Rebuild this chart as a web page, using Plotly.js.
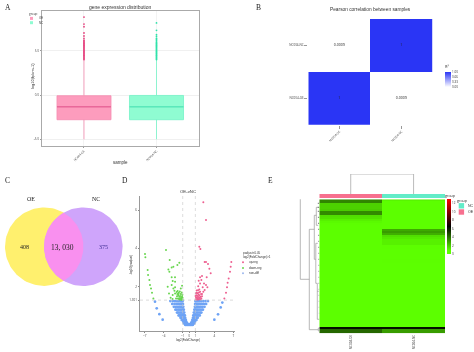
<!DOCTYPE html>
<html><head><meta charset="utf-8">
<script src="https://cdn.plot.ly/plotly-3.0.1.min.js"></script>
<style>html,body{margin:0;padding:0;background:#fff}#p{width:474px;height:352px;filter:blur(0.35px)}</style>
</head><body><div id="p"></div>
<script>
// ---------- DATA ----------
const groups = ['OE','NC'];
const sampleNames = ['NC004-OE','NC004-NC'];
// A: box statistics
const boxQ1 = [-2.79,-2.79], boxMedian = [-1.32,-1.32], boxQ3 = [-0.08,-0.05];
const boxLow = [-5,-5], boxHigh = [3.95,3.95];
const outliersOE = [8.8,8.0,7.7,7.0,6.66,6.4,6.2,6.1,6.0,5.9,5.8,5.7,5.6,5.5,5.4,5.3,5.2,5.1,5.0,4.9,4.8,4.7,4.6,4.5,4.4,4.3,4.2,4.1,4.0];
const outliersNC = [8.13,7.3,6.8,6.6,6.4,6.3,6.15,6.0,5.9,5.8,5.7,5.6,5.5,5.4,5.3,5.2,5.1,5.0,4.9,4.8,4.7,4.6,4.5,4.4,4.3,4.2,4.1,4.0];
const distTicks = [-5,0,5], distTickText = ['-5.0','0.0','5.0'];
// B: correlation (first row is the lower one)
const corrZ = [[1,0.0009],[0.0009,1]];
const corrText = [['1','0.0009'],['0.0009','1']];
const corrTicks = [0,0.33,0.66,1], corrTickText = ['0.00','0.33','0.66','1.00'];
// C: venn
const vennNames = ['OE','NC'];
const vennCounts = ['408','13, 030','375'];
// D: volcano
const downX = [-6.95,-6.89,-6.53,-6.47,-6.26,-6.16,-6.0,-5.84,-5.63,-3.63,-3.05,-1.53,-1.84,-2.47,-2.74,-3.26,-3.1,-2.74,-2.21,-2.58,-2.2,-2.74,-3.37,-2.2,-3.16,-2.47,-2.3,-2.58,-2.2,-1.95,-1.8,-1.62,-1.45,-1.3,-1.15,-1.05,-1.9,-1.7,-1.55,-1.4,-1.25,-1.1,-1.02,-2.05,-1.75,-1.6,-1.42,-1.2,-1.08,-1.5,-1.35,-1.18,-1.03,-1.85,-1.65,-2.9,-2.6,-1.3,-1.1];
const downY = [3.7,3.53,2.87,2.61,2.35,2.09,1.91,1.69,1.39,3.91,3.39,3.25,3.13,3.04,3.0,2.9,2.78,2.49,2.49,2.3,2.26,2.09,2.0,1.97,1.65,1.91,1.79,1.57,1.65,1.72,1.78,1.68,1.75,1.62,1.7,1.58,1.5,1.55,1.48,1.52,1.45,1.5,1.42,1.38,1.38,1.36,1.4,1.38,1.34,1.34,1.33,1.32,1.33,1.62,1.62,1.42,1.36,1.9,2.05];
const upX = [2.26,2.68,1.63,1.79,2.47,2.68,3.0,3.21,3.42,2.05,1.74,1.53,1.95,2.79,2.37,2.9,1.74,1.45,2.16,2.47,2.68,2.26,2.05,6.68,6.58,6.47,6.26,6.1,6.0,5.84,5.58,1.05,1.15,1.3,1.45,1.6,1.8,1.95,1.1,1.25,1.4,1.55,1.7,1.85,2.05,1.03,1.18,1.32,1.5,1.65,1.9,1.08,1.22,1.38,1.58,1.75,1.2,1.42,1.62];
const upY = [6.4,5.48,4.09,3.97,3.29,3.29,3.18,2.94,2.7,2.56,2.49,2.31,2.35,2.49,2.17,1.97,2.17,2.02,1.97,1.83,2.09,1.74,1.62,3.29,3.04,2.78,2.43,2.21,1.97,1.69,1.39,1.34,1.33,1.35,1.33,1.36,1.34,1.38,1.42,1.44,1.4,1.46,1.42,1.48,1.5,1.52,1.55,1.52,1.58,1.56,1.62,1.66,1.68,1.66,1.7,1.74,1.8,1.82,1.86];
const nonX = [-5.37,-5.1,-4.68,-4.16,5.26,5.0,4.58,4.0,
 -1.0,-1.2,-1.4,-1.65,-1.9,-2.2,-2.55,-2.95,1.0,1.2,1.42,1.68,1.92,2.25,2.6,3.0,
 -.95,-1.12,-1.3,-1.5,-1.75,-2.0,-2.3,-2.65,.96,1.14,1.33,1.52,1.77,2.05,2.35,2.7,
 -.9,-1.05,-1.2,-1.4,-1.6,-1.85,-2.1,-2.4,.92,1.06,1.24,1.42,1.63,1.88,2.15,2.45,
 -.82,-.95,-1.1,-1.3,-1.5,-1.7,-1.95,-2.15,.84,.97,1.13,1.32,1.52,1.74,1.98,2.2,
 -.75,-.88,-1.0,-1.2,-1.35,-1.55,-1.75,-1.9,.76,.9,1.03,1.22,1.38,1.58,1.78,1.95,
 -.65,-.8,-.92,-1.05,-1.2,-1.35,-1.5,-1.65,.67,.82,.94,1.07,1.23,1.38,1.53,1.7,
 -.6,-.7,-.82,-.95,-1.05,-1.2,-1.35,.62,.72,.84,.97,1.08,1.22,1.38,
 -.5,-.62,-.72,-.85,-.95,-1.05,-1.15,.52,.64,.74,.87,.97,1.08,1.18,
 -.42,-.52,-.62,-.72,-.82,-.92,.43,.54,.64,.74,.84,.95,
 -.3,-.4,-.5,-.6,-.7,-.8,.32,.42,.52,.62,.72,.82,
 -.15,-.25,-.35,-.45,-.55,-.65,.16,.26,.36,.46,.56,.67,
 0,-.1,-.2,-.3,-.4,-.5,-.6,.1,.2,.3,.4,.5,.6];
const nonY = [1.22,.87,.57,.28,1.17,.92,.56,.28,
 1.25,1.25,1.25,1.25,1.25,1.25,1.25,1.25,1.25,1.25,1.25,1.25,1.25,1.25,1.25,1.25,
 1.1,1.1,1.1,1.1,1.1,1.1,1.1,1.1,1.1,1.1,1.1,1.1,1.1,1.1,1.1,1.1,
 .95,.95,.95,.95,.95,.95,.95,.95,.95,.95,.95,.95,.95,.95,.95,.95,
 .8,.8,.8,.8,.8,.8,.8,.8,.8,.8,.8,.8,.8,.8,.8,.8,
 .65,.65,.65,.65,.65,.65,.65,.65,.65,.65,.65,.65,.65,.65,.65,.65,
 .5,.5,.5,.5,.5,.5,.5,.5,.5,.5,.5,.5,.5,.5,.5,.5,
 .38,.38,.38,.38,.38,.38,.38,.38,.38,.38,.38,.38,.38,.38,
 .27,.27,.27,.27,.27,.27,.27,.27,.27,.27,.27,.27,.27,.27,
 .17,.17,.17,.17,.17,.17,.17,.17,.17,.17,.17,.17,
 .1,.1,.1,.1,.1,.1,.1,.1,.1,.1,.1,.1,
 .05,.05,.05,.05,.05,.05,.05,.05,.05,.05,.05,.05,
 .01,.01,.01,.01,.01,.01,.01,.01,.01,.01,.01,.01,.01];
const fcCut = [-1,1], padjCut = 1.301;
const volcanoLegend = ['up-reg','down-reg','non-diff'];
// E: heatmap rows, top to bottom
const heatOE = [3.5,3.5,1.8,1.8,1.8,1.9,3.4,3.4,1.5,1.4,1.1,.9,.8,.7,.7,.6,.5,.5,.5,.6,.5,.5,.5,.5,.5,.5,.5,.5,.5,.5,.5,.5,.5,.5,.6,.6,.5,.5,.5,.6,.7,.7,.7,.6,.6,.6,.6,.6,.6,.6,.6,.5,.5,.5,.5,.5,.5,.5,.5,.5,.5,.5,.5,.5,6.2,4.2,4.2];
const heatNC = [1.0,.7,.5,.5,.5,.5,.5,.5,.5,.5,.5,.5,.5,.5,.5,2.7,3.0,2.6,1.5,1.3,1.1,1.1,1.1,.8,.8,.7,.6,.6,.6,.6,.8,.8,.7,.7,.6,.5,.5,.5,.5,.4,.4,.4,.4,.4,.4,.4,.4,.4,.4,.4,.4,.4,.4,.4,.4,.4,.4,.4,.4,.4,.4,.4,.4,.5,6.2,3.0,3.0];
const heatTicks = [0,2,4,6,8,10,12];
// E: dendrograms ([height, row or column] node lists, null separates links)
const rowDendroH = [0,19,19,10,null,10,10,null,10,1,null,10,5,null,5,5,null,5,3,null,3,3,null,3,1,null,3,1,null,5,3.5,null,3.5,3.5,null,3.5,1.5,null,3.5,2,null,2,2,null,2,.5,null,2,.5,null,1,1,null,1,0,null,1,0];
const rowDendroR = [-.5,-.5,40,40,null,15,65.2,null,65.2,65.2,null,15,15,null,8,30,null,8,8,null,4,13,null,4,4,null,13,13,null,30,30,null,22,42,null,22,22,null,42,42,null,42,60,null,60,60,null,46,46,null,64.4,65.8,null,64.4,64.4,null,65.8,65.8];
const rowTickH = [0,1.5,null,0,1.5,null,0,1.5,null,0,1.4,null,0,1.3,null,0,1.2,null,0,1.1,null,0,1,null,0,1,null,0,.9,null,0,.9,null,0,.8,null,0,.8,null,0,.7,null,0,.7,null,0,.6,null,0,.6,null,0,.5,null,0,.5,null,0,.4,null,0,.4,null,0,.3,null,0,.3];
const rowTickR = [2,2,null,4,4,null,6,6,null,9,9,null,12,12,null,15,15,null,18,18,null,21,21,null,24,24,null,27,27,null,30,30,null,33,33,null,36,36,null,39,39,null,42,42,null,45,45,null,48,48,null,51,51,null,54,54,null,57,57,null,60,60];
const colDendroX = [0,0,1,1], colDendroH = [0,1,1,0];

// ---------- LAYOUT HELPERS ----------
const W = 474, H = 352;
const dx = (a,b)=>[a/W,b/W], dy = (a,b)=>[1-b/H,1-a/H];
const ann = [];
function T(text,x,y,size,o={}){
  ann.push(Object.assign({text,x:x/W,y:1-y/H,xref:'paper',yref:'paper',showarrow:false,
    xanchor:'center',yanchor:'middle',font:{size,color:'#333',family:'Liberation Sans, Arial, sans-serif'}},o));
}
const SERIF = 'Liberation Serif, serif';
const serif = (size,color='#222')=>({font:{size,color,family:SERIF}});
const hidden = {visible:false,showgrid:false,zeroline:false};
const pink='#fd9cbd', pinkDark='#e6447f', teal='#8ffcd2', tealDark='#2fe2aa';
const traces = [];

// ---------- A ----------
[0,1].forEach(i=>{
  const fill = i? teal:pink, line = i? '#74f2c6':'#f58cb0', dark = i? tealDark:pinkDark;
  traces.push({type:'box',x:[i],q1:[boxQ1[i]],median:[boxMedian[i]],q3:[boxQ3[i]],lowerfence:[boxLow[i]],upperfence:[boxHigh[i]],
    width:0.745,whiskerwidth:0,fillcolor:fill,line:{color:line,width:.8},boxpoints:false,name:groups[i],showlegend:false,xaxis:'x',yaxis:'y'});
  traces.push({type:'scatter',mode:'lines',x:[i-0.3725,i+0.3725],y:[boxMedian[i],boxMedian[i]],line:{color:i?'#5be8bb':'#e9689a',width:1.4},showlegend:false,xaxis:'x',yaxis:'y'});
  const out = i? outliersNC:outliersOE;
  traces.push({type:'scatter',mode:'markers',x:out.map(()=>i),y:out,marker:{size:1.8,color:dark},showlegend:false,xaxis:'x',yaxis:'y'});
});
T('gene expression distribution',120,7,5);
T('sample',120,162,4.5);
T('log10(fpkm+1)',32,76,4,{textangle:-90});
T('group',33,14.5,3,{font:{size:3,color:'#333'}});
T(groups[0],37,18.4,2.8,{xanchor:'left'});
T(groups[1],37,22.7,2.8,{xanchor:'left'});

// ---------- B ----------
traces.push({type:'heatmap',z:corrZ,x:[0,1],y:[0,1],text:corrText,texttemplate:'%{text}',
  textfont:{size:3.6,color:'#222'},zmin:0,zmax:1,colorscale:[[0,'#ffffff'],[1,'#2a35f5']],xaxis:'x2',yaxis:'y2',xgap:0,ygap:0,
  colorbar:{x:445/W,xanchor:'left',y:1-74.5/H,yanchor:'middle',lenmode:'pixels',len:25,thicknessmode:'pixels',thickness:6,xpad:0,ypad:0,
    outlinewidth:0,tickvals:corrTicks,ticktext:corrTickText,ticks:'',tickfont:{size:3,color:'#333'},title:{text:'R²',side:'top',font:{size:4,color:'#333'}}}});
T('Pearson correlation between samples',370.5,9.5,4.8);

// ---------- D ----------
const volc = (x,y,c,n,s)=>({type:'scatter',mode:'markers',x,y,name:n,marker:{size:s,color:c},showlegend:false,xaxis:'x3',yaxis:'y3'});
traces.push(volc(nonX,nonY,'#6ea3f5','non-diff',2.7));
traces.push(volc(downX,downY,'#69d64f','down-reg',2));
traces.push(volc(upX,upY,'#ee5f90','up-reg',2));
T('OE-vNC',188,191.7,4.3);
T('log2(FoldChange)',188,339.5,3);
T('-log10(padjust)',131,265,3,{textangle:-90});
T('padjust<0.05',241,253.3,3,{xanchor:'left'});
T('log2(FoldChange)>1',241,256.9,3,{xanchor:'left'});
const volcColors=['#ee5f90','#69d64f','#9db8ee'];
volcanoLegend.forEach((t,i)=>T(t,247,[262.3,268,273.3][i],3,{xanchor:'left'}));

// ---------- E ----------
const heatZ = heatOE.map((v,i)=>[v,heatNC[i]]);
traces.push({type:'heatmap',z:heatZ,x:[0,1],y:heatOE.map((_,i)=>i+.5),zmin:0,zmax:13,
  colorscale:[[0,'#5cff00'],[0.06,'#5cff00'],[0.5,'#000000'],[1,'#ff0000']],xaxis:'x4',yaxis:'y4',
  colorbar:{x:447/W,xanchor:'left',y:1-226.5/H,yanchor:'middle',lenmode:'pixels',len:55,thicknessmode:'pixels',thickness:3.7,xpad:0,ypad:0,
    outlinewidth:0,tickvals:heatTicks,ticks:'',tickfont:{size:3,color:'#333'}}});
traces.push({type:'heatmap',z:[[0,1]],x:[0,1],y:[0],showscale:false,zmin:0,zmax:1,colorscale:[[0,'#f7708f'],[1,'#62ecc8']],xaxis:'x5',yaxis:'y5'});
traces.push({type:'scatter',mode:'lines',x:colDendroX,y:colDendroH,line:{color:'#aaa',width:.8},showlegend:false,xaxis:'x6',yaxis:'y6'});
traces.push({type:'scatter',mode:'lines',x:rowDendroH,y:rowDendroR,line:{color:'#999',width:.7},connectgaps:false,showlegend:false,xaxis:'x7',yaxis:'y7',cliponaxis:false});
traces.push({type:'scatter',mode:'lines',x:rowTickH,y:rowTickR,line:{color:'#333',width:.7},connectgaps:false,showlegend:false,xaxis:'x7',yaxis:'y7',cliponaxis:false});
T('group',450,195.7,3.6,{font:{size:3.6,color:'#222'}});
T('group',461.5,200.3,3.6,{font:{size:3.6,color:'#222'}});
T('NC',465.5,205.8,3.6,{xanchor:'left'});
T('OE',465.5,212,3.6,{xanchor:'left'});

// ---------- Overlay: C and legend swatches, 1 unit = 1 px ----------
const circle = (cx,cy,r)=>{const x=[],y=[];for(let a=0;a<=360;a+=3){x.push(cx+r*Math.cos(a*Math.PI/180));y.push(cy+r*Math.sin(a*Math.PI/180));}return {x,y};};
const shape = (p,fillcolor)=>({type:'scatter',mode:'lines',x:p.x,y:p.y,fill:'toself',fillcolor,line:{width:0},showlegend:false,xaxis:'x8',yaxis:'y8',hoverinfo:'skip'});
const cL={x:44.2,y:246.7,r:39.2}, cR={x:83.3,y:246.7,r:39.3};
traces.push(shape(circle(cL.x,cL.y,cL.r),'#fff06e'));
traces.push(shape(circle(cR.x,cR.y,cR.r),'#cfa5fb'));
const half = Math.acos((cR.x-cL.x)/2/cL.r)*180/Math.PI, lens={x:[],y:[]};
for(let a=-half;a<=half;a+=2){lens.x.push(cL.x+cL.r*Math.cos(a*Math.PI/180));lens.y.push(cL.y+cL.r*Math.sin(a*Math.PI/180));}
for(let a=180-half;a<=180+half;a+=2){lens.x.push(cR.x+cR.r*Math.cos(a*Math.PI/180));lens.y.push(cR.y+cR.r*Math.sin(a*Math.PI/180));}
traces.push(shape(lens,'#f990ef'));
traces.push({type:'scatter',mode:'markers',x:[31.5,31.5],y:[18.4,22.7],marker:{symbol:'square',size:3,color:[pink,teal]},showlegend:false,xaxis:'x8',yaxis:'y8'});
traces.push({type:'scatter',mode:'markers',x:[243,243,243],y:[262.3,268,273.3],marker:{size:2,color:volcColors},showlegend:false,xaxis:'x8',yaxis:'y8'});
traces.push({type:'scatter',mode:'markers',x:[461.4,461.4],y:[205.8,212],marker:{symbol:'square',size:5.4,color:['#62ecc8','#f7708f']},showlegend:false,xaxis:'x8',yaxis:'y8'});
T(vennNames[0],31,199,6,serif(6));
T(vennNames[1],96,199,6,serif(6));
T(vennCounts[0],24,246.5,6,serif(6));
T(vennCounts[1],62,247,7.5,serif(7.5));
T(vennCounts[2],103,246.5,6,serif(6,'#3a2a90'));

// Panel letters
[['A',7.5,8],['B',258,7.5],['C',7.5,180.5],['D',125,180.5],['E',270,180.5]].forEach(l=>T(l[0],l[1],l[2],7.5,serif(7.5)));

// ---------- AXES ----------
const tinyTick = {size:3,color:'#444'};
const layout = {
  width:W,height:H,margin:{l:0,r:0,t:0,b:0,pad:0},paper_bgcolor:'#fff',plot_bgcolor:'rgba(0,0,0,0)',showlegend:false,annotations:ann,hovermode:false,
  xaxis:{domain:dx(42,199),anchor:'y',range:[-0.579,1.586],tickvals:[0,1],ticktext:sampleNames,tickangle:-45,tickfont:tinyTick,ticks:'outside',ticklen:1.5,tickcolor:'#999',
    showgrid:true,gridcolor:'#f3f3f3',zeroline:false,showline:true,mirror:true,linecolor:'#aaa',linewidth:1},
  yaxis:{domain:dy(11,145.7),anchor:'x',range:[-5.72,9.48],tickvals:distTicks,ticktext:distTickText,tickfont:tinyTick,ticks:'outside',ticklen:1.5,tickcolor:'#999',
    showgrid:true,gridcolor:'#f0f0f0',zeroline:false,showline:true,mirror:true,linecolor:'#aaa',linewidth:1},
  xaxis2:{domain:dx(308.3,432.7),anchor:'y2',range:[-.5,1.5],tickvals:[0,1],ticktext:sampleNames,tickangle:-45,tickfont:tinyTick,ticks:'outside',ticklen:3,tickcolor:'#999',showgrid:false,zeroline:false,showline:false},
  yaxis2:{domain:dy(19,124.7),anchor:'x2',range:[-.5,1.5],tickvals:[0,1],ticktext:sampleNames,tickfont:tinyTick,ticks:'outside',ticklen:3,tickcolor:'#999',showgrid:false,zeroline:false,showline:false},
  xaxis3:{domain:dx(140,235),anchor:'y3',range:[-7.74,7.26],tickvals:[-7,-4,-1,0,1,4,7],tickfont:tinyTick,ticks:'outside',ticklen:1,tickcolor:'#888',showgrid:false,zeroline:false,showline:true,linecolor:'#999',linewidth:.8},
  yaxis3:{domain:dy(196,331),anchor:'x3',range:[-.31,6.73],tickvals:[1.301,2,4,6],ticktext:['1.301','2','4','6'],tickfont:tinyTick,ticks:'outside',ticklen:1.5,tickcolor:'#888',showgrid:false,zeroline:false,showline:true,linecolor:'#999',linewidth:.8},
  xaxis4:{domain:dx(319.3,445),anchor:'y4',range:[-.5,1.5],tickvals:[0,1],ticktext:sampleNames,tickangle:-90,tickfont:tinyTick,ticks:'',showgrid:false,zeroline:false,showline:false},
  yaxis4:Object.assign({domain:dy(199.3,333.3),anchor:'x4',range:[67,0]},hidden),
  xaxis5:Object.assign({domain:dx(319.3,445),anchor:'y5',range:[-.5,1.5]},hidden),
  yaxis5:Object.assign({domain:dy(194,198.3),anchor:'x5',range:[-.5,.5]},hidden),
  xaxis6:Object.assign({domain:dx(319.3,445),anchor:'y6',range:[-.5,1.5]},hidden),
  yaxis6:Object.assign({domain:dy(174,194),anchor:'x6',range:[0,1]},hidden),
  xaxis7:Object.assign({domain:dx(298,319.3),anchor:'y7',range:[21.3,0]},hidden),
  yaxis7:Object.assign({domain:dy(199.3,333.3),anchor:'x7',range:[67,0]},hidden),
  xaxis8:Object.assign({domain:[0,1],anchor:'y8',range:[0,W]},hidden),
  yaxis8:Object.assign({domain:[0,1],anchor:'x8',range:[H,0]},hidden),
  shapes:[
    ...fcCut.map(v=>({type:'line',xref:'x3',yref:'y3 domain',x0:v,x1:v,y0:0,y1:1,line:{color:'#c4c4c4',width:.6,dash:'dot'}})),
    {type:'line',xref:'x3 domain',yref:'y3',x0:0,x1:1,y0:padjCut,y1:padjCut,line:{color:'#c4c4c4',width:.6,dash:'dot'}}
  ]
};
Plotly.newPlot('p',traces,layout,{displayModeBar:false,responsive:false});
</script></body></html>
